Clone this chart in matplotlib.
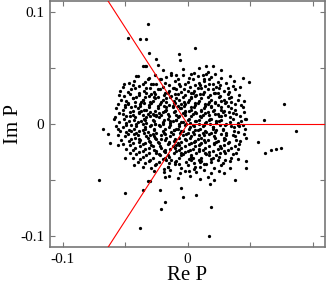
import numpy as np
import matplotlib
matplotlib.use("Agg")
import matplotlib.pyplot as plt

# Polyakov loop values, in units of 1e-3 (Re P, Im P)
outlier_pts = [
    (-32, 90), (-48, 77), (-38, 76), (-33, 76), (-31, 64), (-25, 58), (-24, 53),
    (-7, 63), (-6, 57), (6, 68), (-36, 52), (-34, 52), (-33, 52), (-40, 43),
    (-51, 36), (15, 52), (20, 52), (44, 41), (49, 38), (77, 18), (61, 4),
    (87, -6), (46, 5), (-68, -4), (-64, -9), (-62, -17), (-56, -4), (-56, -19),
    (-59, 5), (-50, -30), (-43, -37), (-71, -50), (-50, -62), (-36, -59),
    (-32, -51), (-30, -51), (-22, -59), (-21, -76), (-18, -70), (-38, -93),
    (-5, -57), (-4, -65), (7, -63), (19, -74), (17, -100), (18, -54), (21, -50),
    (38, -50), (29, -44), (34, -39), (47, -39), (47, -33), (56, -16), (62, -26),
    (67, -23), (71, -22), (75, -21), (47, -12), (41, -2), (40, -1),
]

core_pts = [
    (-20, 48), (-13, 46), (-4, 49), (3, 45), (9, 50), (16, 47), (22, 45), (27, 48), (-9, 44), (12, 44),
    (-41, 43), (-31, 41), (-26, 44), (-17, 42), (-8, 40), (-4, 44), (1, 41), (8, 43), (13, 40), (19, 42),
    (27, 41), (34, 43), (-13, 44), (15, 45), (-22, 40), (5, 46),
    (-47, 37), (-43, 39), (-34, 38), (-29, 36), (-21, 40), (-18, 37), (-10, 39), (-7, 36), (0, 38), (4, 40),
    (9, 37), (13, 39), (20, 36), (24, 38), (31, 37), (37, 39), (-32, 40), (10, 35), (-25, 36), (17, 40),
    (-52, 33), (-44, 35), (-39, 34), (-33, 32), (-28, 36), (-20, 33), (-15, 35), (-12, 32), (-6, 34), (-2, 36),
    (2, 33), (6, 35), (8, 32), (14, 34), (17, 36), (23, 33), (26, 35), (32, 32), (36, 34), (42, 33),
    (-24, 31), (16, 31), (-9, 31), (0, 30), (-36, 36),
    (-54, 30), (-48, 29), (-45, 31), (-39, 28), (-35, 30), (-30, 32), (-27, 29), (-22, 31), (-18, 28), (-15, 30),
    (-11, 32), (-5, 29), (-3, 31), (3, 28), (5, 30), (11, 32), (13, 29), (20, 31), (22, 28), (29, 30),
    (33, 29), (38, 31), (-29, 27), (-8, 27), (12, 27), (25, 32), (-42, 32), (7, 26),
    (-55, 26), (-51, 25), (-46, 27), (-41, 24), (-39, 26), (-33, 28), (-31, 25), (-26, 27), (-24, 24), (-19, 26),
    (-16, 28), (-13, 25), (-10, 27), (-4, 24), (-2, 26), (4, 28), (6, 25), (10, 27), (16, 24), (18, 26),
    (24, 28), (26, 25), (32, 27), (35, 24), (41, 26), (-44, 23), (-17, 23), (3, 23), (21, 28), (-7, 22),
    (29, 22), (-36, 22),
    (-53, 22), (-49, 21), (-44, 23), (-42, 20), (-36, 22), (-34, 24), (-28, 21), (-26, 23), (-21, 20), (-20, 22),
    (-14, 24), (-11, 21), (-9, 23), (-3, 20), (1, 22), (3, 24), (9, 21), (11, 23), (17, 20), (19, 22),
    (25, 24), (27, 21), (33, 23), (35, 20), (40, 22), (45, 21), (-35, 19), (-11, 19), (6, 19), (22, 19),
    (-27, 24), (-5, 18), (14, 18), (-48, 18),
    (-56, 18), (-50, 17), (-48, 19), (-42, 16), (-38, 18), (-37, 20), (-31, 17), (-29, 19), (-24, 16), (-22, 18),
    (-17, 20), (-15, 17), (-10, 19), (-8, 16), (-2, 18), (0, 20), (6, 17), (8, 19), (14, 16), (16, 18),
    (22, 20), (24, 17), (30, 19), (32, 16), (38, 18), (43, 17), (-45, 15), (-17, 15), (3, 15), (19, 15),
    (-30, 20), (31, 20), (-6, 14), (11, 13), (-35, 13), (27, 13),
    (-57, 14), (-52, 13), (-50, 15), (-44, 12), (-40, 14), (-38, 16), (-33, 13), (-31, 15), (-26, 12), (-24, 14),
    (-19, 16), (-17, 13), (-12, 15), (-10, 12), (-5, 14), (-3, 16), (3, 13), (5, 15), (11, 12), (13, 14),
    (19, 16), (21, 13), (27, 15), (29, 12), (35, 14), (38, 13), (44, 15), (-39, 11), (-20, 11), (-2, 11),
    (16, 11), (33, 11), (-12, 16), (7, 10), (-28, 9), (24, 9),
    (-55, 10), (-52, 9), (-46, 11), (-44, 8), (-39, 10), (-37, 12), (-32, 9), (-30, 11), (-25, 8), (-23, 10),
    (-18, 12), (-16, 9), (-11, 11), (-9, 8), (-4, 10), (-2, 12), (4, 9), (6, 11), (12, 8), (14, 10),
    (20, 12), (22, 9), (28, 11), (30, 8), (36, 10), (39, 9), (45, 11), (-46, 7), (-25, 7), (-7, 7),
    (10, 7), (27, 7), (-18, 12), (1, 12), (-33, 6), (18, 5),
    (-58, 6), (-51, 5), (-49, 7), (-43, 4), (-42, 6), (-36, 8), (-35, 5), (-30, 7), (-28, 4), (-23, 6),
    (-21, 8), (-16, 5), (-15, 7), (-9, 4), (-8, 6), (-2, 8), (1, 5), (3, 7), (9, 4), (11, 6),
    (17, 8), (19, 5), (25, 7), (27, 4), (34, 6), (36, 5), (42, 7), (47, 5), (-37, 3), (-14, 3),
    (6, 3), (23, 3), (-27, 8), (-4, 2), (14, 1), (-20, 1),
    (-55, 2), (-49, 1), (-47, 3), (-41, 0), (-40, 2), (-34, 4), (-33, 1), (-27, 3), (-26, 0), (-20, 2),
    (-19, 4), (-14, 1), (-12, 3), (-7, 0), (-5, 2), (0, 4), (2, 1), (7, 3), (9, 0), (15, 2),
    (17, 4), (23, 1), (25, 3), (31, 0), (34, 2), (40, 1), (43, 3), (-45, -1), (-23, -1), (-2, -1),
    (13, -1), (30, -1), (-9, 4), (5, -2), (-30, -2), (20, -3),
    (-57, -2), (-52, -3), (-49, -1), (-43, -4), (-41, -2), (-36, 0), (-34, -3), (-29, -1), (-27, -4), (-22, -2),
    (-20, 0), (-15, -3), (-14, -1), (-8, -4), (-7, -2), (-1, 0), (2, -3), (4, -1), (10, -4), (12, -2),
    (18, 0), (20, -3), (26, -1), (28, -4), (35, -2), (37, -3), (44, -1), (-36, -5), (-11, -5), (8, -5),
    (23, -5), (-26, 0), (46, -4), (-4, -6), (15, -7), (-45, -6),
    (-54, -6), (-49, -7), (-47, -5), (-41, -8), (-39, -6), (-34, -4), (-32, -7), (-27, -5), (-25, -8), (-20, -6),
    (-18, -4), (-13, -7), (-11, -5), (-6, -8), (-5, -6), (1, -4), (4, -7), (6, -5), (12, -8), (14, -6),
    (20, -4), (22, -7), (28, -5), (31, -8), (37, -6), (40, -7), (-43, -9), (-18, -9), (-1, -9), (17, -9),
    (31, -10), (-9, -4), (9, -10), (-30, -10),
    (-56, -10), (-50, -11), (-48, -9), (-42, -12), (-40, -10), (-35, -8), (-33, -11), (-28, -9), (-26, -12), (-21, -10),
    (-19, -8), (-14, -11), (-12, -9), (-7, -12), (-4, -10), (0, -8), (3, -11), (5, -9), (11, -12), (13, -10),
    (19, -8), (21, -11), (27, -9), (29, -12), (36, -10), (38, -11), (45, -9), (-39, -13), (-21, -13), (-2, -13),
    (13, -14), (29, -14), (-10, -15), (6, -15),
    (-53, -14), (-47, -15), (-45, -13), (-39, -16), (-38, -14), (-32, -12), (-31, -15), (-25, -13), (-24, -16), (-18, -14),
    (-17, -12), (-11, -15), (-10, -13), (-5, -16), (-1, -14), (2, -12), (6, -15), (8, -13), (14, -16), (16, -14),
    (22, -12), (24, -15), (30, -13), (33, -16), (39, -14), (42, -15), (-34, -17), (-15, -17), (3, -17), (21, -17),
    (-27, -11), (10, -18), (-7, -19),
    (-52, -18), (-46, -19), (-44, -17), (-38, -20), (-36, -18), (-30, -16), (-29, -19), (-23, -17), (-22, -20), (-16, -18),
    (-15, -16), (-9, -19), (-8, -17), (-2, -20), (1, -18), (5, -16), (9, -19), (11, -17), (17, -20), (21, -18),
    (23, -16), (29, -19), (32, -17), (38, -20), (41, -18), (-31, -21), (-10, -21), (9, -22), (27, -21), (-18, -23),
    (2, -23),
    (-49, -22), (-44, -23), (-42, -21), (-36, -24), (-34, -22), (-28, -20), (-27, -23), (-21, -21), (-19, -24), (-14, -22),
    (-12, -20), (-7, -23), (-5, -21), (0, -24), (4, -22), (6, -20), (12, -23), (14, -21), (20, -24), (24, -22),
    (26, -20), (32, -23), (35, -21), (40, -22), (-25, -26), (-5, -26), (14, -26), (30, -26),
    (-46, -26), (-41, -27), (-39, -25), (-33, -28), (-31, -26), (-25, -24), (-23, -27), (-18, -25), (-16, -28), (-11, -26),
    (-9, -24), (-4, -27), (-2, -25), (3, -28), (7, -26), (9, -24), (15, -27), (17, -25), (23, -28), (26, -26),
    (29, -24), (36, -27), (39, -26), (-18, -30), (4, -30), (20, -30),
    (-44, -30), (-38, -31), (-36, -29), (-30, -32), (-28, -30), (-22, -28), (-20, -31), (-15, -29), (-13, -32), (-7, -30),
    (-5, -28), (1, -31), (3, -29), (9, -32), (11, -30), (17, -28), (19, -31), (25, -29), (30, -32), (35, -30),
    (40, -31), (-10, -34), (10, -34),
    (-40, -34), (-34, -35), (-31, -33), (-25, -36), (-23, -34), (-17, -32), (-15, -35), (-9, -33), (-7, -36), (-1, -34),
    (3, -32), (5, -35), (11, -33), (13, -36), (19, -34), (24, -32), (28, -35), (34, -33), (-16, -38), (6, -38),
    (-36, -38), (-29, -39), (-26, -37), (-19, -40), (-16, -38), (-10, -36), (-5, -39), (0, -37), (5, -40), (10, -38),
    (15, -36), (21, -39), (27, -37), (-2, -42),
    (-27, -42), (-19, -43), (-14, -41), (-6, -44), (1, -42), (7, -43), (13, -41), (19, -44), (25, -42), (-15, -46),
    (-18, -47), (-8, -48), (2, -46), (10, -49), (16, -47),
]

pts = np.array(outlier_pts + core_pts, dtype=float) * 1e-3
re_p = pts[:, 0]
im_p = pts[:, 1]

# Z(3) center directions
z3_angles = [0.0, 2 * np.pi / 3, 4 * np.pi / 3]
ray_len = 0.2

plt.rcParams['font.family'] = ['Liberation Serif', 'DejaVu Serif']

fig = plt.figure(figsize=(3.27, 2.89), dpi=100)
ax = fig.add_axes([0.153, 0.145, 0.841, 0.851])

ax.scatter(re_p, im_p, s=5.5, c='black', linewidths=0, zorder=2)
for a in z3_angles:
    ax.plot([0, ray_len * np.cos(a)], [0, ray_len * np.sin(a)], color='red', lw=0.8, zorder=3)

ax.set_xlim(-0.11, 0.11)
ax.set_ylim(-0.11, 0.11)
ax.set_xticks([-0.1, -0.05, 0, 0.05, 0.1])
ax.set_xticklabels(['-0.1', '', '0', '', ''])
ax.set_yticks([-0.1, -0.05, 0, 0.05, 0.1])
ax.set_yticklabels(['-0.1', '', '0', '', '0.1'])
ax.tick_params(direction='in', length=3.5, width=0.8, color='#777777',
               top=True, right=True, labelsize=11, pad=4)

for sp in ax.spines.values():
    sp.set_color('#777777')
    sp.set_linewidth(1.2)

ax.set_xlabel('Re P', fontsize=15, labelpad=0)
ax.set_ylabel('Im P', fontsize=15)
ax.yaxis.set_label_coords(-0.1, 0.5)

fig.savefig('out.png', dpi=100)
